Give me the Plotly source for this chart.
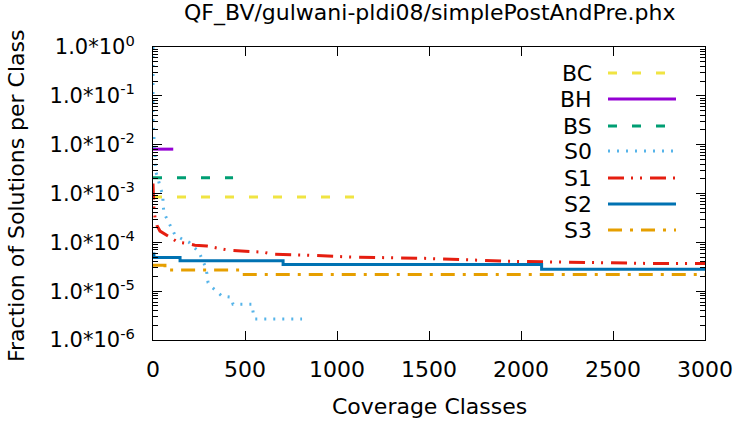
import plotly.graph_objects as go

# ---------------- data ----------------
bc_x = [0, 1100]
bc_y = [8.5e-4, 8.5e-4]

bh_x = [0, 110]
bh_y = [8.1e-3, 8.1e-3]

bs_x = [0, 435]
bs_y = [2.1e-3, 2.1e-3]

s0_x = [0, 0, 5, 5, 11, 11, 16, 27, 38, 54, 54, 60, 82, 103, 120, 158, 196, 250,
        266, 283, 293, 299, 321, 348, 375, 424, 435, 538, 545, 554, 810]
s0_y = [1.0, 0.025, 0.017, 0.011, 6.7e-3, 4.4e-3, 2.7e-3, 2.1e-3, 1.35e-3, 9.3e-4,
        6.0e-4, 4.0e-4, 2.7e-4, 1.95e-4, 1.4e-4, 1.17e-4, 1.0e-4, 6.3e-5, 4.5e-5,
        3.3e-5, 2.3e-5, 1.5e-5, 1.2e-5, 9.5e-6, 7.9e-6, 7.5e-6, 5.4e-6, 5.4e-6,
        3.5e-6, 2.7e-6, 2.7e-6]

s1_x = [0, 2, 5, 11, 22, 38, 70, 103, 136, 185, 228, 293, 402, 435, 598, 652,
        815, 1071, 1478, 1924, 2685, 3000]
s1_y = [1.6e-3, 7.0e-4, 5.0e-4, 3.2e-4, 2.2e-4, 1.7e-4, 1.45e-4, 1.2e-4, 1.0e-4,
        9.5e-5, 8.7e-5, 8.4e-5, 7.0e-5, 6.8e-5, 6.3e-5, 5.7e-5, 5.5e-5, 5.0e-5,
        4.7e-5, 4.1e-5, 3.7e-5, 3.7e-5]

s2_x = [0, 5, 147, 707, 2112, 3000]
s2_y = [5.8e-5, 4.9e-5, 4.2e-5, 3.5e-5, 2.8e-5, 2.8e-5]

s3_x = [0, 65, 483, 3000]
s3_y = [3.4e-5, 2.7e-5, 2.2e-5, 2.2e-5]

x_ticks = [0, 500, 1000, 1500, 2000, 2500, 3000]
y_exps = [0, -1, -2, -3, -4, -5, -6]
y_ticktext = ["1.0*10<sup>%d</sup>" % e for e in y_exps]

names = ["BC", "BH", "BS", "S0", "S1", "S2", "S3"]
colors = ["#F0E442", "#9400D3", "#009E73", "#56B4E9", "#E51E10", "#0072B2", "#E69F00"]
dashes = ["9px,15px", "solid", "9px,15px", "2px,7px",
          "16px,7px,2px,7px,2px,8px", "solid", "14px,8px,3px,8px"]
shapes_ = ["linear", "linear", "linear", "linear", "linear", "hv", "hv"]
series = [(bc_x, bc_y), (bh_x, bh_y), (bs_x, bs_y), (s0_x, s0_y),
          (s1_x, s1_y), (s2_x, s2_y), (s3_x, s3_y)]

FONT = "DejaVu Sans"
FS = 22

fig = go.Figure()
for (xs, ys), n, c, d, sh in zip(series, names, colors, dashes, shapes_):
    fig.add_trace(go.Scatter(x=xs, y=ys, mode="lines", name=n, line_shape=sh,
                             line=dict(color=c, width=3, dash=d), showlegend=False))

# plot area in pixels
L, R, T, B = 153, 705, 47, 340
W, H = 735, 423

def px(xp):
    return (xp - L) / (R - L)

def py(yp):
    return (B - yp) / (B - T)

annotations = []
shapes = []
# custom gnuplot-like legend
row_y = [73, 99, 126, 151, 178, 204, 230]
for n, c, d, yy in zip(names, colors, dashes, row_y):
    annotations.append(dict(x=px(594), y=py(yy), xref="paper", yref="paper",
                            text=n, showarrow=False, xanchor="right", yanchor="middle",
                            font=dict(family=FONT, size=FS, color="black")))
    shapes.append(dict(type="line", xref="paper", yref="paper",
                       x0=px(608), x1=px(676), y0=py(yy), y1=py(yy),
                       line=dict(color=c, width=3, dash=d)))

annotations.append(dict(x=0.5, y=py(13), xref="paper", yref="paper",
                        text="QF_BV/gulwani-pldi08/simplePostAndPre.phx",
                        showarrow=False, xanchor="center", yanchor="middle",
                        font=dict(family=FONT, size=FS, color="black")))
annotations.append(dict(x=0.5, y=py(406), xref="paper", yref="paper",
                        text="Coverage Classes", showarrow=False,
                        xanchor="center", yanchor="middle",
                        font=dict(family=FONT, size=FS, color="black")))
annotations.append(dict(x=px(16), y=py(196), xref="paper", yref="paper",
                        text="Fraction of Solutions per Class", showarrow=False,
                        textangle=-90, xanchor="center", yanchor="middle",
                        font=dict(family=FONT, size=FS, color="black")))

minor_vals = [k * 10.0 ** e for e in range(-6, 0) for k in range(2, 10)]

fig.update_layout(
    width=W, height=H,
    margin=dict(l=L, r=W - R, t=T, b=H - B, pad=0, autoexpand=False),
    paper_bgcolor="white", plot_bgcolor="white",
    font=dict(family=FONT, size=FS, color="black"),
    showlegend=False,
    annotations=annotations,
    shapes=shapes,
    xaxis=dict(range=[0, 3000], tickmode="array", tickvals=x_ticks,
               ticks="inside", ticklen=9, tickcolor="black", tickwidth=1,
               showline=True, linecolor="black", linewidth=1, mirror="allticks",
               showgrid=False, zeroline=False, ticklabelstandoff=10, automargin=False,
               tickfont=dict(family=FONT, size=FS, color="black")),
    yaxis=dict(type="log", range=[-6, 0], tickmode="array",
               tickvals=[10.0 ** e for e in y_exps], ticktext=y_ticktext,
               ticks="inside", ticklen=9, tickcolor="black", tickwidth=1,
               showline=True, linecolor="black", linewidth=1, mirror="allticks",
               showgrid=False, zeroline=False, ticklabelstandoff=13, automargin=False,
               tickfont=dict(family=FONT, size=21, color="black"),
               minor=dict(tickmode="array", tickvals=minor_vals, ticks="inside",
                          ticklen=5, tickcolor="black", tickwidth=1, showgrid=False)),
)

fig.write_html("out.html")
